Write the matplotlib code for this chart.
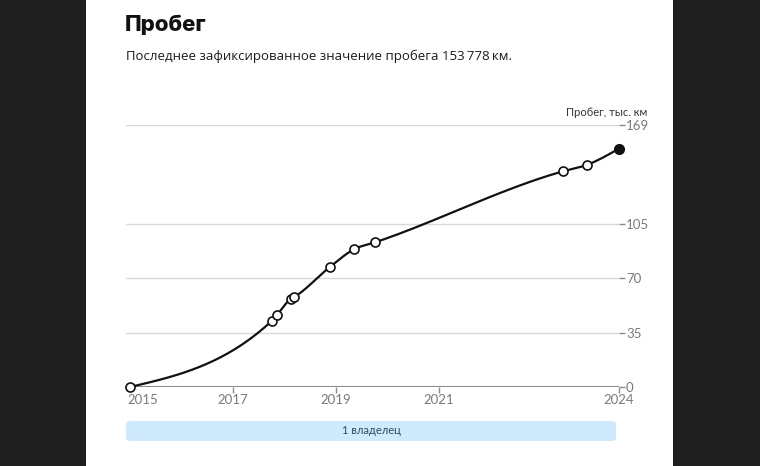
import numpy as np
import matplotlib.pyplot as plt
from matplotlib.patches import Rectangle, FancyBboxPatch
from matplotlib.transforms import ScaledTranslation

# Mileage records (year as decimal, thousands of km)
years = [2015.0, 2017.76, 2017.85, 2018.13, 2018.19, 2018.88, 2019.35, 2019.76, 2023.41, 2023.87, 2024.5]
mileage = [0.0, 42.8, 46.2, 57.0, 58.1, 77.3, 88.8, 93.3, 139.1, 143.2, 153.778]
y_ticks = [0, 35, 70, 105, 169]
x_ticks = [2015.0, 2017, 2019, 2021, 2024.5]
x_labels = ['2015', '2017', '2019', '2021', '2024']
owners_label = '1 владелец'


def monotone_curve(x, y, n=40):
    """d3-style curveMonotoneX drawing path"""
    x = np.asarray(x, float)
    y = np.asarray(y, float)
    h = np.diff(x)
    s = np.diff(y) / h
    t = np.zeros(len(x))
    for i in range(1, len(x) - 1):
        p = (s[i - 1] * h[i] + s[i] * h[i - 1]) / (h[i - 1] + h[i])
        t[i] = (np.sign(s[i - 1]) + np.sign(s[i])) * min(abs(s[i - 1]), abs(s[i]), 0.5 * abs(p))
    t[0] = (3 * s[0] - t[1]) / 2
    t[-1] = (3 * s[-1] - t[-2]) / 2
    xs, ys = [], []
    for i in range(len(x) - 1):
        u = np.linspace(0, 1, n)
        h00 = 2 * u**3 - 3 * u**2 + 1
        h10 = u**3 - 2 * u**2 + u
        h01 = -2 * u**3 + 3 * u**2
        h11 = u**3 - u**2
        xs.extend(x[i] + u * h[i])
        ys.extend(h00 * y[i] + h10 * h[i] * t[i] + h01 * y[i + 1] + h11 * h[i] * t[i + 1])
    return np.array(xs), np.array(ys)


W, H = 760, 466
fig = plt.figure(figsize=(W / 100, H / 100), dpi=100)
fig.patch.set_facecolor('#1e1e1e')
fig.patches.append(Rectangle((86 / W, 0), (673 - 86) / W, 1, transform=fig.transFigure,
                             facecolor='white', edgecolor='none', zorder=-10))

fig.text(125 / W, 1 - 25 / H, 'Пробег', fontsize=16, fontweight='heavy',
         family='Inter', va='center', ha='left', color='#111111')
fig.text(126 / W, 1 - 56 / H, 'Последнее зафиксированное значение пробега 153\u2009778\u2009км.',
         fontsize=9.5, family=['Open Sans', 'DejaVu Sans'], va='center', ha='left', color='#1a1a1a')

px_per_year = 51.5
x_left = 2015.0 - 4 / px_per_year
ax = fig.add_axes([126 / W, 79 / H, (619 - 126) / W, (387 - 125) / H])
ax.set_facecolor('none')
ax.set_xlim(x_left, 2024.5)
ax.set_ylim(0, 169)

cx, cy = monotone_curve(years, mileage)
ax.plot(cx, cy, color='#111111', lw=1.6, zorder=3, solid_capstyle='round', clip_on=False)
ax.plot(years[:-1], mileage[:-1], 'o', ms=6.5, mfc='white', mec='#111111', mew=1.2, zorder=4,
        clip_on=False)
ax.plot(years[-1:], mileage[-1:], 'o', ms=7, mfc='#111111', mec='#111111', zorder=4, clip_on=False)

for v in y_ticks[1:]:
    ax.axhline(v, color='#d9d9d9', lw=1, zorder=1)
ax.axhline(0, color='#8c8c8c', lw=1.5, zorder=2)

for s in ax.spines.values():
    s.set_visible(False)

ax.yaxis.tick_right()
ax.set_yticks(y_ticks)
ax.set_yticklabels([str(v) for v in y_ticks])
ax.tick_params(axis='y', length=4, width=1, color='#8c8c8c', pad=1,
               labelsize=9.5, labelcolor='#7a7a7a')
ax.set_xticks(x_ticks)
ax.set_xticklabels(x_labels)
ax.tick_params(axis='x', length=4, width=1, color='#8c8c8c', pad=1,
               labelsize=9.5, labelcolor='#7a7a7a')
for lab in ax.get_xticklabels() + ax.get_yticklabels():
    lab.set_family('Lato')
first = ax.get_xticklabels()[0]
first.set_ha('left')
first.set_transform(first.get_transform() + ScaledTranslation(-3 / 100, 0, fig.dpi_scale_trans))
ax.xaxis.get_major_ticks()[0].tick1line.set_visible(False)

fig.text(647 / W, 1 - 113 / H, 'Пробег, тыс. км', fontsize=8, family='Lato',
         ha='right', va='center', color='#333333')

band = FancyBboxPatch((126 / W, 1 - 441 / H), (616 - 126) / W, 20 / H,
                      boxstyle='round,pad=0,rounding_size=0.006', transform=fig.transFigure,
                      facecolor='#cfeafc', edgecolor='none')
fig.patches.append(band)
fig.text(371 / W, 1 - 431 / H, owners_label, fontsize=8, family='Lato',
         ha='center', va='center', color='#2f4a66')

fig.savefig('out.png', dpi=100)
